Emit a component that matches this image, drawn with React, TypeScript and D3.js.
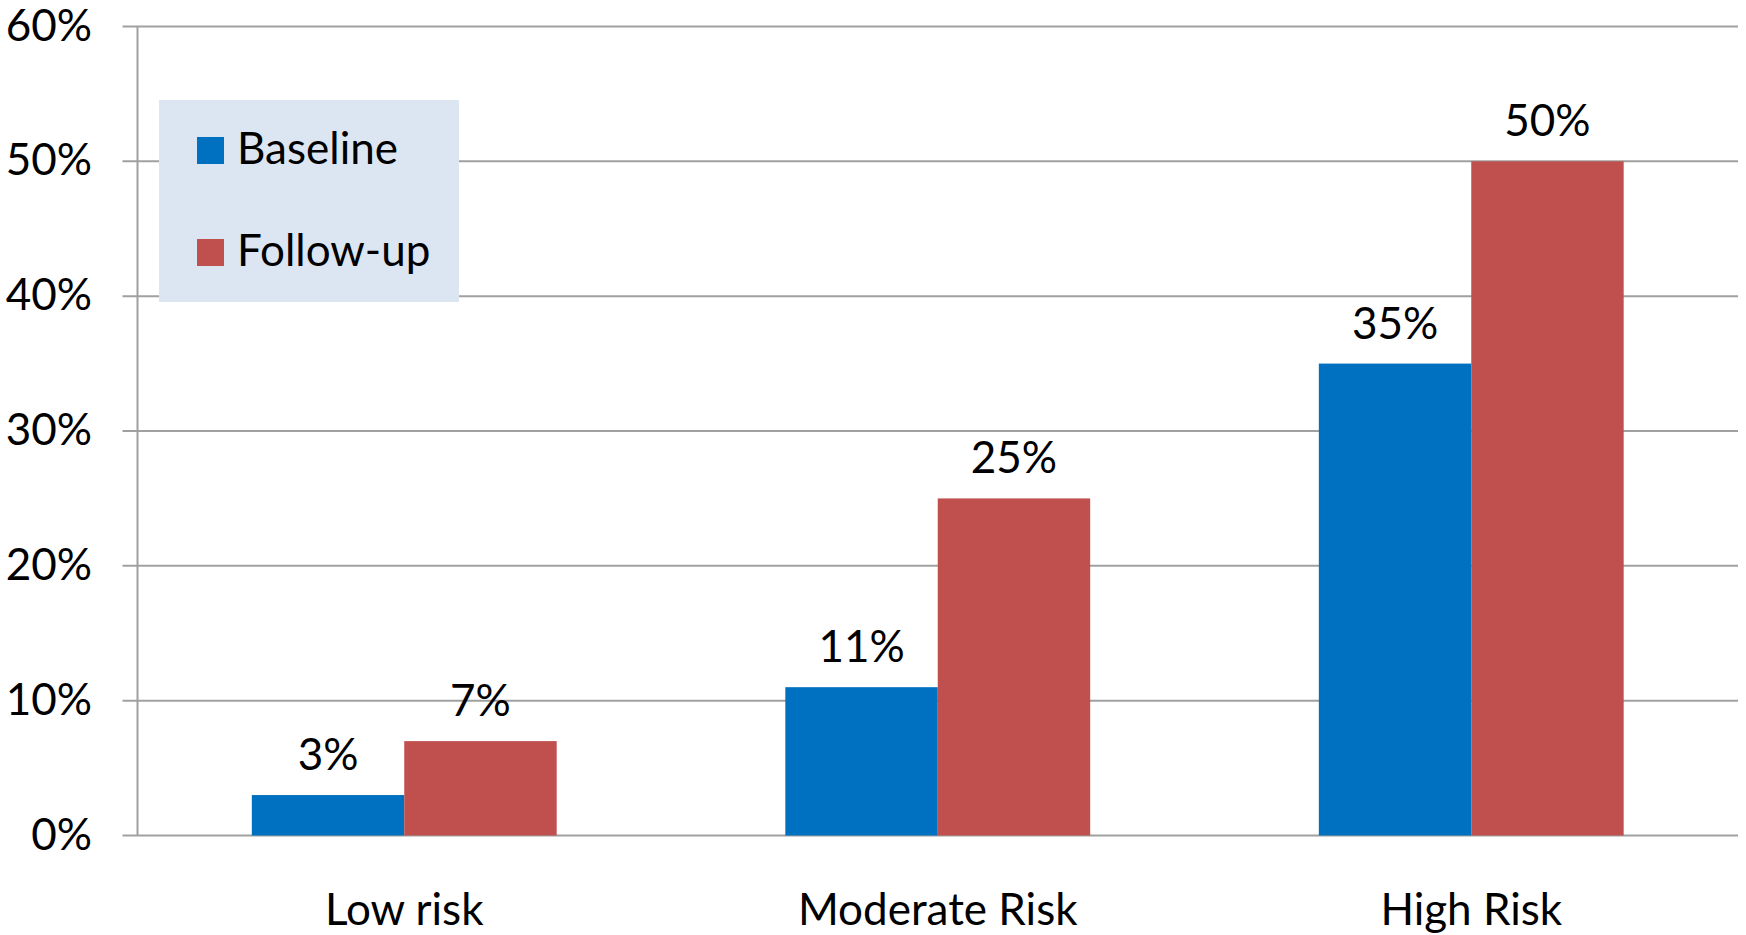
import * as d3 from "d3";
import { useEffect, useRef } from "react";

const categories = ["Low risk", "Moderate Risk", "High Risk"];
const seriesNames = ["Baseline", "Follow-up"];
const baselineValues = [3, 11, 35];
const followUpValues = [7, 25, 50];
const yTicks = [0, 10, 20, 30, 40, 50, 60];
const colors = ["#0070c0", "#c0504d"];

const WIDTH = 1746;
const HEIGHT = 935;
const FONT = "Lato, 'Open Sans', sans-serif";
const FONT_SIZE = 44;

const BarChart = () => {
  const svgRef = useRef<SVGSVGElement>(null);

  useEffect(() => {
    const svg = d3.select(svgRef.current);
    svg.selectAll("*").remove();

    const plot = { left: 137.5, right: 1738, top: 26.5, bottom: 835.5 };

    const x = d3.scaleBand().domain(categories).range([plot.left, plot.right]);
    const xSeries = d3
      .scaleBand()
      .domain(seriesNames)
      .range([0, x.bandwidth()])
      .paddingInner(0)
      .paddingOuter(0.75); // Excel gap width 150%
    const y = d3.scaleLinear().domain([0, 60]).range([plot.bottom, plot.top]);

    // gridlines + left ticks
    svg
      .append("g")
      .selectAll("line")
      .data(yTicks)
      .join("line")
      .attr("x1", plot.left - 15)
      .attr("x2", plot.right)
      .attr("y1", (d) => y(d))
      .attr("y2", (d) => y(d))
      .attr("stroke", "#a0a0a0")
      .attr("stroke-width", 2);

    // y axis line
    svg
      .append("line")
      .attr("x1", plot.left)
      .attr("x2", plot.left)
      .attr("y1", y(60))
      .attr("y2", y(0))
      .attr("stroke", "#a0a0a0")
      .attr("stroke-width", 2);

    // y tick labels
    svg
      .append("g")
      .selectAll("text")
      .data(yTicks)
      .join("text")
      .attr("x", 92)
      .attr("y", (d) => y(d) + 14)
      .attr("text-anchor", "end")
      .attr("font-family", FONT)
      .attr("font-size", FONT_SIZE)
      .attr("fill", "#000")
      .text((d) => d + "%");

    const rows = categories.map((c, i) => ({
      category: c,
      values: [baselineValues[i], followUpValues[i]],
    }));

    const groups = svg
      .append("g")
      .selectAll("g")
      .data(rows)
      .join("g")
      .attr("transform", (d) => `translate(${x(d.category)},0)`);

    groups
      .selectAll("rect")
      .data((d) => d.values.map((v, j) => ({ key: seriesNames[j], value: v, j })))
      .join("rect")
      .attr("x", (d) => xSeries(d.key)!)
      .attr("width", xSeries.bandwidth())
      .attr("y", (d) => y(d.value))
      .attr("height", (d) => y(0) - y(d.value))
      .attr("fill", (d) => colors[d.j]);

    // value labels
    groups
      .selectAll("text")
      .data((d) => d.values.map((v, j) => ({ key: seriesNames[j], value: v })))
      .join("text")
      .attr("x", (d) => xSeries(d.key)! + xSeries.bandwidth() / 2)
      .attr("y", (d) => y(d.value) - 25)
      .attr("text-anchor", "middle")
      .attr("font-family", FONT)
      .attr("font-size", FONT_SIZE)
      .attr("fill", "#000")
      .text((d) => d.value + "%");

    // category labels
    svg
      .append("g")
      .selectAll("text")
      .data(categories)
      .join("text")
      .attr("x", (d) => x(d)! + x.bandwidth() / 2)
      .attr("y", 925)
      .attr("text-anchor", "middle")
      .attr("font-family", FONT)
      .attr("font-size", FONT_SIZE)
      .attr("fill", "#000")
      .text((d) => d);

    // legend
    const legend = svg.append("g");
    legend
      .append("rect")
      .attr("x", 159)
      .attr("y", 100)
      .attr("width", 300)
      .attr("height", 202)
      .attr("fill", "#dce6f2");
    const items = legend
      .selectAll("g")
      .data(seriesNames)
      .join("g")
      .attr("transform", (d, i) => `translate(197,${137 + i * 102})`);
    items
      .append("rect")
      .attr("width", 27)
      .attr("height", 27)
      .attr("fill", (d, i) => colors[i]);
    items
      .append("text")
      .attr("x", 40)
      .attr("y", 27)
      .attr("font-family", FONT)
      .attr("font-size", FONT_SIZE)
      .attr("fill", "#000")
      .text((d) => d);
  }, []);

  return (
    <svg
      ref={svgRef}
      width={WIDTH}
      height={HEIGHT}
      style={{ position: "absolute", left: 0, top: 0, background: "#fff" }}
    ></svg>
  );
};

export default function App() {
  return <BarChart />;
}
